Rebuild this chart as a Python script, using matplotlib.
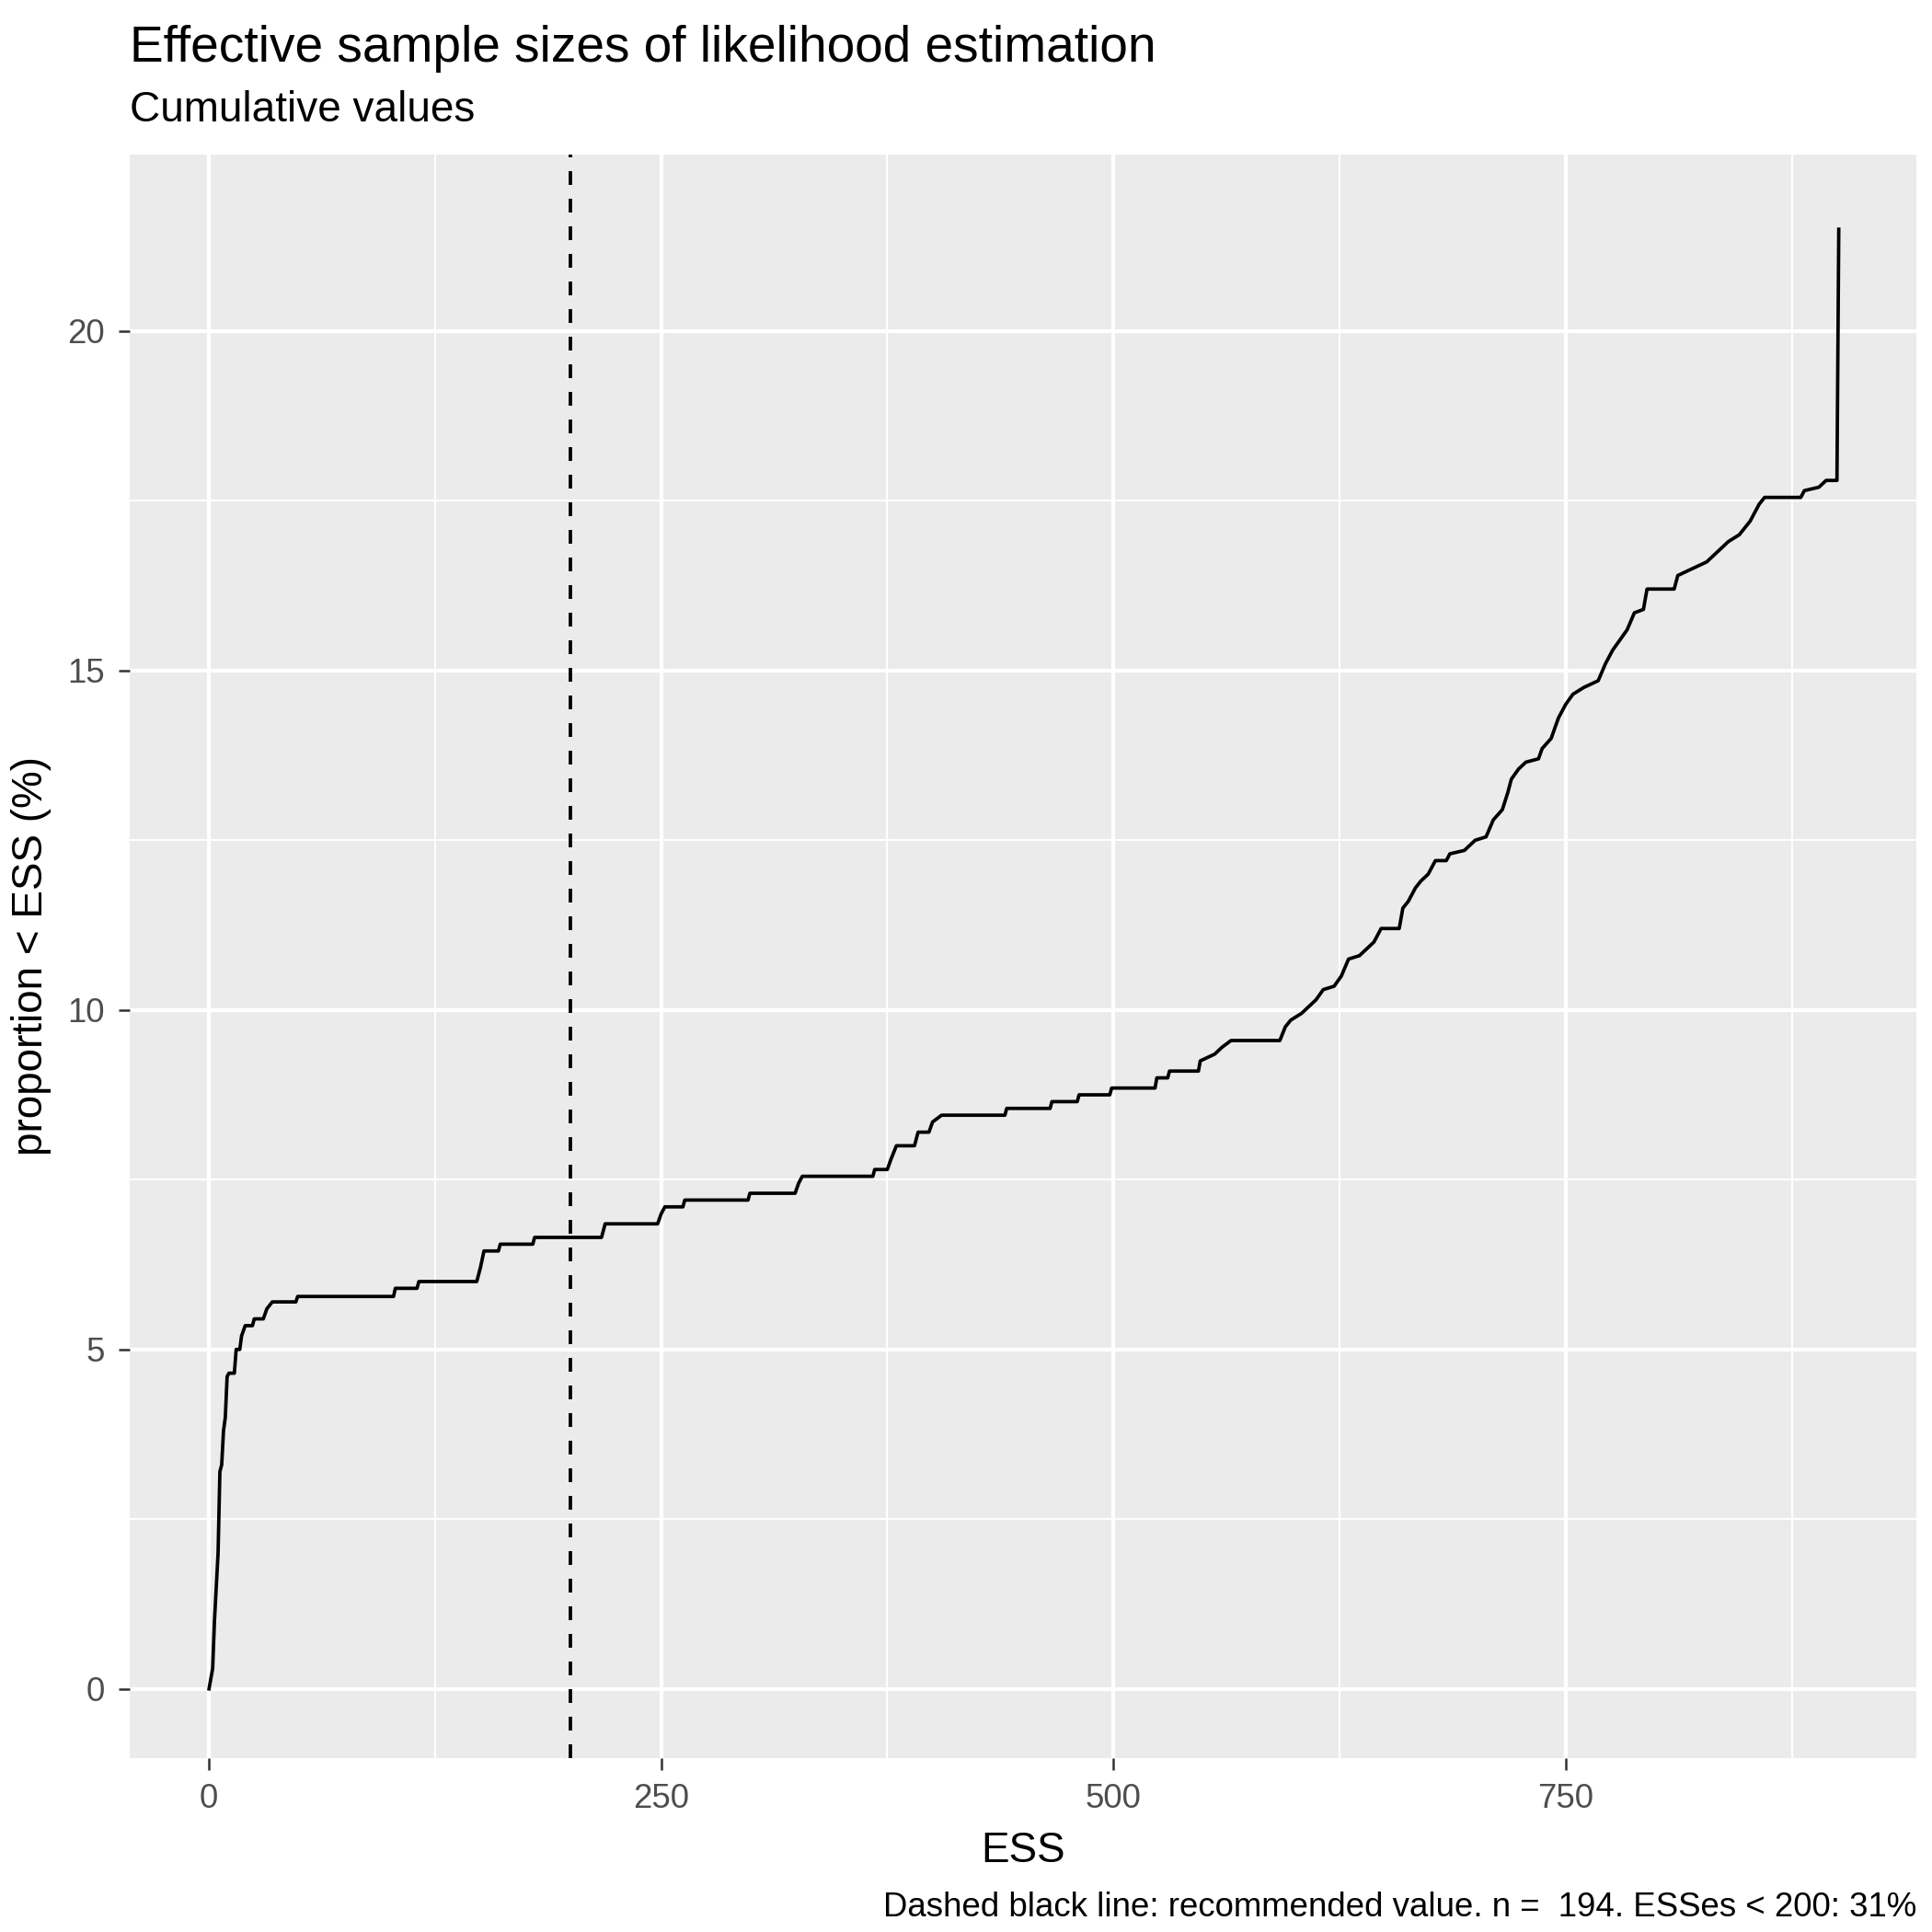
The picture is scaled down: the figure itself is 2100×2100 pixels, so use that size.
import matplotlib
matplotlib.use("Agg")
import matplotlib.pyplot as plt

ess = [0,2,3,5,6,7,8,9,10,11,14,15,17,18,20,24,25,30,32,35,48,49,102,103,115,116,148,150,152,160,161,179,180,217,219,248,250,252,262,263,298,299,324,326,328,367,368,375,377,380,390,392,398,400,405,440,441,465,466,480,481,498,499,523,524,530,531,547,548,556,560,565,592,595,598,604,608,612,616,622,626,630,636,640,644,648,658,660,663,667,670,674,678,684,686,694,700,706,710,715,718,720,724,728,735,737,742,746,750,754,760,768,772,776,780,784,788,793,795,810,812,820,828,834,840,846,852,857,860,880,882,890,894,900,901]
prop = [0,0.3,1.0,2.0,3.2,3.3,3.8,4.0,4.6,4.65,4.65,5.0,5.0,5.2,5.35,5.35,5.45,5.45,5.6,5.7,5.7,5.78,5.78,5.9,5.9,6.0,6.0,6.2,6.45,6.45,6.55,6.55,6.65,6.65,6.85,6.85,7.0,7.1,7.1,7.2,7.2,7.3,7.3,7.45,7.55,7.55,7.65,7.65,7.8,8.0,8.0,8.2,8.2,8.35,8.45,8.45,8.55,8.55,8.65,8.65,8.75,8.75,8.85,8.85,9.0,9.0,9.1,9.1,9.25,9.35,9.45,9.55,9.55,9.75,9.85,9.95,10.05,10.15,10.3,10.35,10.5,10.75,10.8,10.9,11.0,11.2,11.2,11.5,11.6,11.8,11.9,12.0,12.2,12.2,12.3,12.35,12.5,12.55,12.8,12.95,13.2,13.4,13.55,13.65,13.7,13.85,14.0,14.3,14.5,14.65,14.75,14.85,15.1,15.3,15.45,15.6,15.85,15.9,16.2,16.2,16.4,16.5,16.6,16.75,16.9,17.0,17.2,17.45,17.55,17.55,17.65,17.7,17.8,17.8,21.5]
recommended = 200
xticks = [0,250,500,750]
yticks = [0,5,10,15,20]

plt.rcParams['font.family'] = ['Liberation Sans', 'DejaVu Sans']
fig = plt.figure(figsize=(7,7), dpi=300)
ax = fig.add_axes([0.067, 0.090, 0.925, 0.830])
ax.set_facecolor('#EBEBEB')
for s in ax.spines.values(): s.set_visible(False)
ax.set_xlim(-44, 944); ax.set_ylim(-1.02, 22.6)
ax.set_xticks(xticks); ax.set_yticks(yticks)
ax.set_xticks([125,375,625,875], minor=True)
ax.set_yticks([2.5,7.5,12.5,17.5], minor=True)
ax.grid(True, which='major', color='white', lw=1.0)
ax.grid(True, which='minor', color='white', lw=0.5)
ax.set_axisbelow(True)
ax.tick_params(which='major', length=3, color='#333333', labelcolor='#4D4D4D', labelsize=8.8, width=0.6)
ax.tick_params(which='minor', length=0)
ax.plot(ess, prop, color='black', lw=0.9)
ax.axvline(recommended, color='black', ls=(0,(4,4)), lw=0.9)
ax.set_xlabel('ESS', fontsize=11)
ax.set_ylabel('proportion < ESS (%)', fontsize=11)
fig.text(0.067, 0.968, 'Effective sample sizes of likelihood estimation', fontsize=13.2, va='baseline')
fig.text(0.067, 0.937, 'Cumulative values', fontsize=11, va='baseline')
fig.text(0.992, 0.008, 'Dashed black line: recommended value. n =  194. ESSes < 200: 31%', fontsize=8.8, ha='right', va='baseline')
fig.savefig('out.png')
